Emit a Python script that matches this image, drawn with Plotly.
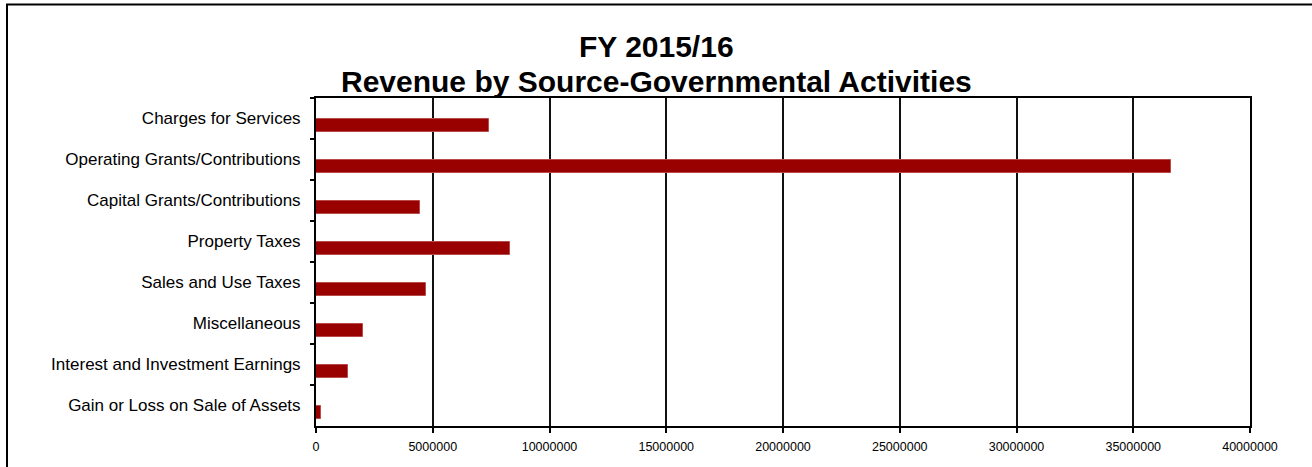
import plotly.graph_objects as go

categories = [
    "Charges for Services",
    "Operating Grants/Contributions",
    "Capital Grants/Contributions",
    "Property Taxes",
    "Sales and Use Taxes",
    "Miscellaneous",
    "Interest and Investment Earnings",
    "Gain or Loss on Sale of Assets",
]
values = [7410000, 36600000, 4470000, 8310000, 4710000, 2010000, 1360000, 210000]
x_ticks = [0, 5000000, 10000000, 15000000, 20000000, 25000000, 30000000, 35000000, 40000000]
title_lines = ["FY 2015/16", "Revenue by Source-Governmental Activities"]

fig = go.Figure()
fig.add_trace(go.Bar(
    x=values,
    y=categories,
    orientation="h",
    width=0.32,
    offset=0,
    marker=dict(color="#990000", line=dict(color="#b84a4a", width=1)),
    showlegend=False,
))

fig.update_layout(
    width=1312,
    height=467,
    margin=dict(l=316, r=62, t=98, b=41),
    paper_bgcolor="white",
    plot_bgcolor="white",
    font=dict(family="Liberation Sans, Arial, sans-serif", color="#000"),
    bargap=0,
)

# title lines as two annotations for precise placement
title_centers = [47, 81]
for line, cy in zip(title_lines, title_centers):
    fig.add_annotation(
        text="<b>" + line + "</b>",
        xref="paper", yref="paper",
        x=(656 - 316) / 934,
        y=(426 - cy) / 328,
        xanchor="center", yanchor="middle",
        showarrow=False,
        font=dict(size=30, family="Liberation Sans, Arial, sans-serif", color="#000"),
    )

fig.update_xaxes(
    range=[0, 40000000],
    tickvals=x_ticks,
    ticktext=[str(v) for v in x_ticks],
    showgrid=True,
    gridcolor="#111",
    gridwidth=1.5,
    zeroline=False,
    showline=True,
    linecolor="#000",
    linewidth=2,
    mirror=True,
    ticks="outside",
    ticklen=5,
    tickcolor="#000",
    tickwidth=1.5,
    ticklabelstandoff=3,
    tickfont=dict(size=12.5, color="#000"),
)

fig.update_yaxes(
    autorange="reversed",
    showgrid=False,
    showline=True,
    linecolor="#000",
    linewidth=2,
    mirror=True,
    ticks="outside",
    tickson="boundaries",
    ticklen=4,
    tickcolor="#000",
    tickwidth=1.5,
    ticklabelstandoff=10,
    tickfont=dict(size=17, color="#000"),
)

# outer chart border (left and top visible)
fig.add_shape(
    type="rect",
    xref="paper", yref="paper",
    x0=(7 - 316) / 934, x1=(1330 - 316) / 934,
    y0=(426 - 490) / 328, y1=(426 - 4.5) / 328,
    line=dict(color="#000", width=2),
    fillcolor="rgba(0,0,0,0)",
    layer="below",
)

fig.write_html("out.html")
